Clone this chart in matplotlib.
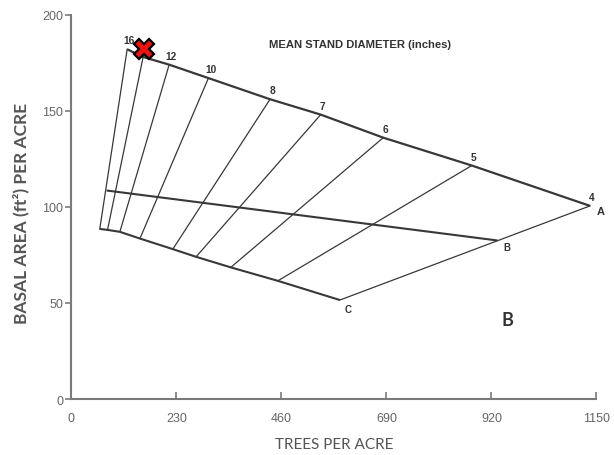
import matplotlib
matplotlib.use('Agg')
import matplotlib.pyplot as plt

# mean stand diameter (inches) and where each line meets the upper (A) and lower (C) curves
diameters = ['16', '14', '12', '10', '8', '7', '6', '5', '4']
top_tpa = [122, 157, 214, 300, 435, 546, 683, 877, 1136]
top_ba = [182, 178, 174, 167, 156, 148, 136, 121.5, 100.5]
low_tpa = [62, 79, 106, 150, 222, 273, 349, 452, 588]
low_ba = [88.5, 88, 87, 83.5, 78, 74, 68.5, 61.5, 51.5]

# B-level line
b_tpa = [77, 933]
b_ba = [108.5, 82.5]

# marked stand
mark_tpa = 159
mark_ba = 182

x_ticks = [0, 230, 460, 690, 920, 1150]
y_ticks = [0, 50, 100, 150, 200]

line_col = '#383838'
axis_col = '#7a7a7a'
text_col = '#666666'

fig = plt.figure(figsize=(6.14, 4.56), dpi=100)
ax = fig.add_axes([0.1164, 0.1228, 0.855, 0.8428])

# A curve (full stocking) and C curve
ax.plot(top_tpa, top_ba, color=line_col, lw=1.6, solid_capstyle='butt')
ax.plot(low_tpa, low_ba, color=line_col, lw=1.5, solid_capstyle='butt')
ax.plot(b_tpa, b_ba, color=line_col, lw=1.5, solid_capstyle='butt')

# diameter lines
for i in range(len(diameters)):
    ax.plot([top_tpa[i], low_tpa[i]], [top_ba[i], low_ba[i]],
            color=line_col, lw=0.9)
    ax.annotate(diameters[i], (top_tpa[i], top_ba[i]), xytext=(1.5, 6.5),
                textcoords='offset points', ha='center', va='center',
                fontsize=7.3, fontweight='bold', color='#333333',
                family=['Liberation Sans', 'DejaVu Sans'])

# letters for curve ends
ax.annotate('A', (top_tpa[-1], top_ba[-1]), xytext=(8, -3.5),
            textcoords='offset points', ha='center', va='center',
            fontsize=8, fontweight='bold', color='#333333',
            family=['Liberation Sans', 'DejaVu Sans'], annotation_clip=False)
ax.annotate('B', (b_tpa[-1], b_ba[-1]), xytext=(7, -4.5),
            textcoords='offset points', ha='center', va='center',
            fontsize=7, fontweight='bold', color='#333333',
            family=['Liberation Sans', 'DejaVu Sans'])
ax.annotate('C', (low_tpa[-1], low_ba[-1]), xytext=(6, -6.5),
            textcoords='offset points', ha='center', va='center',
            fontsize=7, fontweight='bold', color='#333333',
            family=['Liberation Sans', 'DejaVu Sans'])

ax.plot([mark_tpa], [mark_ba], marker='X', ms=15, mfc='#ee1111',
        mec='black', mew=1.6, zorder=5, clip_on=False)

ax.text(632, 184.5, 'MEAN STAND DIAMETER (inches)', ha='center', va='center',
        fontsize=8.1, fontweight='bold', color='#333333',
        family=['Liberation Sans Narrow', 'Liberation Sans', 'DejaVu Sans'])
ax.text(954, 41.5, 'B', ha='center', va='center', fontsize=13,
        fontweight='bold', color='#333333', family=['Lato', 'DejaVu Sans'])

ax.set_xlim(0, 1150)
ax.set_ylim(0, 200)
ax.set_xticks(x_ticks)
ax.set_yticks(y_ticks)

for s in ['top', 'right']:
    ax.spines[s].set_visible(False)
for s in ['left', 'bottom']:
    ax.spines[s].set_color(axis_col)
    ax.spines[s].set_linewidth(1.5)

ax.tick_params(axis='x', direction='in', length=5, width=1.2, color=axis_col,
               pad=9, labelsize=9, labelcolor=text_col)
ax.tick_params(axis='y', direction='out', length=4, width=1.2, color=axis_col,
               pad=2, labelsize=9, labelcolor=text_col)
for lab in ax.get_xticklabels() + ax.get_yticklabels():
    lab.set_family(['Liberation Sans', 'DejaVu Sans'])

ax.set_xlabel('TREES PER ACRE', fontsize=11, color='#555555',
              family=['Lato', 'DejaVu Sans'])
ax.xaxis.set_label_coords(0.5, -0.1)
ax.set_ylabel('BASAL AREA (ft²) PER ACRE', fontsize=12.5, fontweight='bold',
              color='#555555', family=['Lato', 'DejaVu Sans'])
ax.yaxis.set_label_coords(-0.081, 0.485)

fig.savefig('out.png', dpi=100)
